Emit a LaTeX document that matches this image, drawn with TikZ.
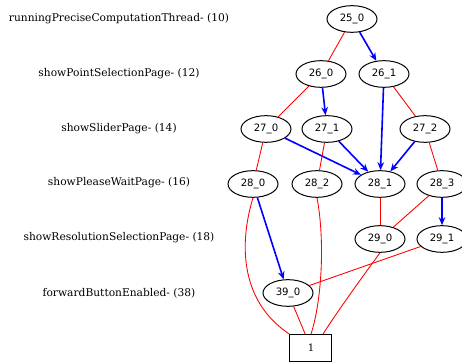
\documentclass[tikz,border=0pt]{standalone}
\usepackage{fontspec}
\setmainfont{DejaVu Serif}
\newfontfamily\nodefont{DejaVu Sans}
\usetikzlibrary{shapes.geometric,arrows.meta}
\begin{document}
\begin{tikzpicture}[x=0.75pt,y=-0.75pt,
  st/.style={ellipse,draw,line width=0.75pt,minimum width=37.5pt,minimum height=20pt,inner sep=0pt,font=\nodefont\fontsize{7.6}{9}\selectfont},
  boxn/.style={rectangle,draw,line width=0.75pt,minimum width=31.5pt,minimum height=20pt,inner sep=0pt,font=\fontsize{7.6}{9}\selectfont},
  lvl/.style={font=\fontsize{8}{9}\selectfont},
  rl/.style={red,line width=0.65pt},
  bl/.style={blue,line width=1.2pt,-{Stealth[length=6pt,width=5pt]}}]
\useasboundingbox (0,0) rectangle (462,363);
\node[lvl] (l10) at (119,19) {runningPreciseComputationThread- (10)};
\node[lvl] (l12) at (119,74) {showPointSelectionPage- (12)};
\node[lvl] (l14) at (119,129) {showSliderPage- (14)};
\node[lvl] (l16) at (119,183) {showPleaseWaitPage- (16)};
\node[lvl] (l18) at (119,238) {showResolutionSelectionPage- (18)};
\node[lvl] (l38) at (119,293) {forwardButtonEnabled- (38)};

\node[st] (n25a) at (352,19) {25\_0};
\node[st] (n26a) at (321,74) {26\_0};
\node[st] (n26b) at (384,74) {26\_1};
\node[st] (n27a) at (266,129) {27\_0};
\node[st] (n27b) at (327,129) {27\_1};
\node[st] (n27c) at (425,129) {27\_2};
\node[st] (n28a) at (253,184) {28\_0};
\node[st] (n28c) at (317,184) {28\_2};
\node[st] (n28b) at (380,184) {28\_1};
\node[st] (n28d) at (442,184) {28\_3};
\node[st] (n29a) at (380,239) {29\_0};
\node[st] (n29b) at (442,239) {29\_1};
\node[st] (n39a) at (288,293) {39\_0};
\node[boxn] (one) at (311,348) {1};

\draw[rl] (n25a) -- (n26a);
\draw[bl] (n25a) -- (n26b);
\draw[rl] (n26a) -- (n27a);
\draw[bl] (n26a) -- (n27b);
\draw[bl] (n26b) -- (n28b);
\draw[rl] (n26b) -- (n27c);
\draw[bl] (n27a) -- (n28b);
\draw[rl] (n27a) -- (n28a);
\draw[rl] (n27b) -- (n28c);
\draw[bl] (n27b) -- (n28b);
\draw[bl] (n27c) -- (n28b);
\draw[rl] (n27c) -- (n28d);
\draw[bl] (n28a) -- (n39a);
\draw[rl] (n28a.south) .. controls (240,240) and (238,300) .. (one.north west);
\draw[rl] (n28c.south) .. controls (325,240) and (322,300) .. (one.north);
\draw[rl] (n28b) -- (n29a);
\draw[rl] (n28d) -- (n29a);
\draw[bl] (n28d) -- (n29b);
\draw[rl] (n29a.south) .. controls (360,280) and (335,315) .. ([xshift=9]one.north);
\draw[rl] (n29b) -- (n39a);
\draw[rl] (n39a) -- (one);
\end{tikzpicture}
\end{document}
